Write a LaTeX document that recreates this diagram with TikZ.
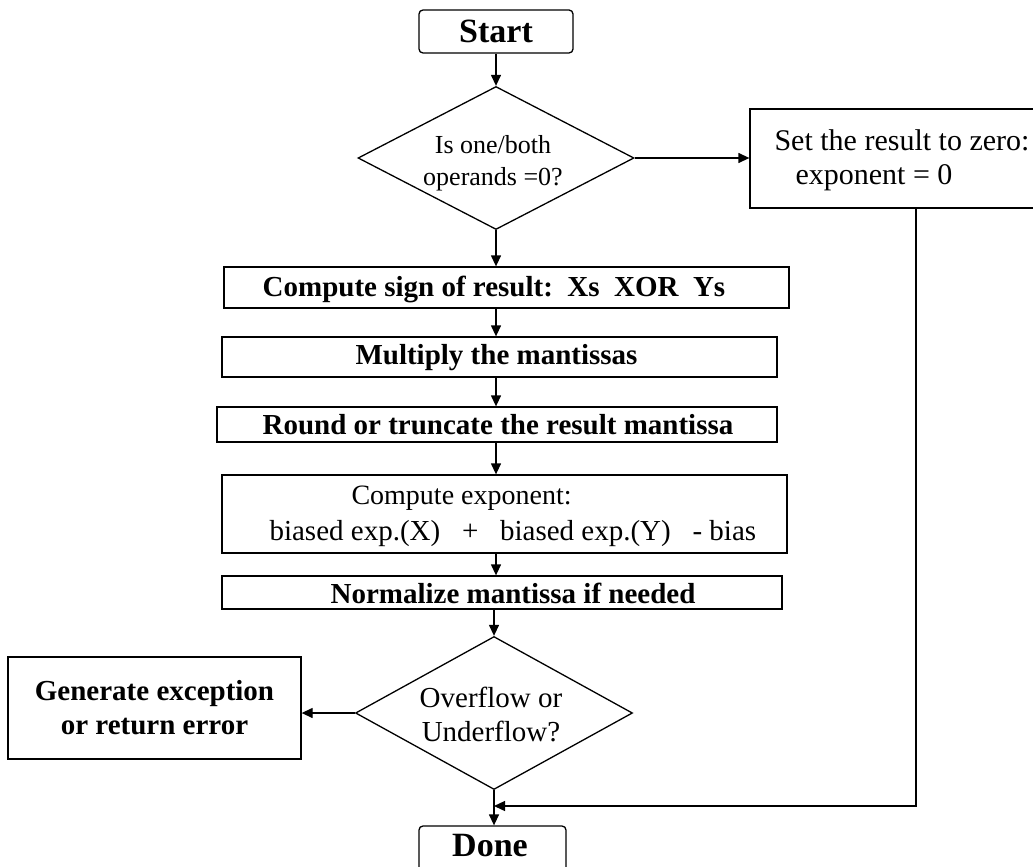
\documentclass[tikz,border=0pt]{standalone}
\usepackage{fontspec}
\setmainfont{Liberation Serif}
\usetikzlibrary{shapes.geometric,arrows.meta}
\begin{document}
\begin{tikzpicture}[x=1pt,y=-1pt,
  ln/.style={line width=1.3pt},
  arr/.style={line width=1.3pt,-{Triangle[length=11pt,width=10pt]}},
  box/.style={draw,line width=1.3pt,inner sep=0pt},
  dia/.style={draw,diamond,line width=1.3pt,inner sep=0pt},
  bigb/.style={font=\bfseries\fontsize{34}{38}\selectfont},
  txtb/.style={font=\bfseries\fontsize{29}{34}\selectfont},
  txtr/.style={font=\fontsize{29}{36}\selectfont},
  txtz/.style={font=\fontsize{30}{36}\selectfont},
  txtd/.style={font=\fontsize{26}{32}\selectfont,align=center},
]
\fill[white] (0,0) rectangle (1033,867);
\clip (0,0) rectangle (1033,867);

% nodes
\node[box,rounded corners=4pt,minimum width=154pt,minimum height=43pt,bigb] (start) at (496,31.5) {Start};
\node[dia,minimum width=276pt,minimum height=143pt] (d1) at (496,158) {};
\node[txtd] (d1t) at (493,163) {Is one/both\\operands =0?};
\node[box,minimum width=332pt,minimum height=99pt] (zero) at (916,158.5) {};
\node[txtz,anchor=west] (zt1) at (771,140) {Set the result to zero:};
\node[txtz,anchor=west] (zt2) at (792,178) {exponent = 0};

\node[box,minimum width=565pt,minimum height=41pt] (sign) at (506.5,287.5) {};
\node[txtb] (signt) at (494,289) {Compute sign of result:\ \ Xs\ \ XOR\ \ Ys};
\node[box,minimum width=555pt,minimum height=40pt] (mult) at (499.5,357) {};
\node[txtb] (multt) at (496.5,358) {Multiply the mantissas};
\node[box,minimum width=560pt,minimum height=35pt] (round) at (497,424.5) {};
\node[txtb] (roundt) at (498,425) {Round or truncate the result mantissa};
\node[box,minimum width=565pt,minimum height=78pt] (exp) at (504.5,514) {};
\node[txtr,font=\fontsize{28}{36}\selectfont,anchor=west] (expt1) at (348,498) {Compute exponent:};
\node[txtr,anchor=west] (expt2) at (266,534) {biased exp.(X)\ \ \ +\ \ \ biased exp.(Y)\ \ \ - bias};
\node[box,minimum width=560pt,minimum height=33pt] (norm) at (502,592.5) {};
\node[txtb] (normt) at (513,593) {Normalize mantissa if needed};

\node[dia,minimum width=277pt,minimum height=153pt] (d2) at (494,713) {};
\node[txtd,font=\fontsize{29}{34}\selectfont] (d2t) at (491,714) {Overflow or\\Underflow?};
\node[box,minimum width=293pt,minimum height=102pt,txtb,align=center] (gen) at (154.5,708) {Generate exception\\or return error};
\node[box,rounded corners=4pt,minimum width=147pt,minimum height=54pt] (done) at (492.5,853) {};
\node[bigb] (donet) at (490,846) {Done};
\coordinate (j) at (494,806);

% connectors
\draw[arr] (start.south -| d1) -- (d1.north);
\draw[arr] (d1.east) -- (zero.west |- d1.east);
\draw[arr] (d1.south) -- (sign.north -| d1);
\draw[arr] (sign.south -| d1) -- (mult.north -| d1);
\draw[arr] (mult.south -| d1) -- (round.north -| d1);
\draw[arr] (round.south -| d1) -- (exp.north -| d1);
\draw[arr] (exp.south -| d1) -- (norm.north -| d1);
\draw[arr] (norm.south -| d2) -- (d2.north);
\draw[arr] (d2.west) -- (gen.east |- d2.west);
\draw[arr] (d2.south) -- (done.north -| d2);
\draw[arr] (zero.south) |- (j);
\end{tikzpicture}
\end{document}
